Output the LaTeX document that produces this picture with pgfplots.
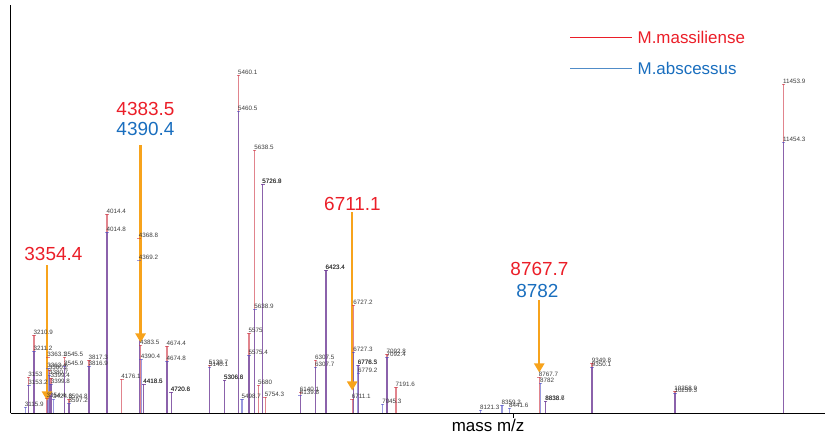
\documentclass[border=0pt]{standalone}
\usepackage{pgfplots}
\pgfplotsset{compat=1.18}
\usepackage{pgfplotstable}
\usepackage{fontspec}
\setmainfont{Liberation Sans}
\usetikzlibrary{arrows.meta}

\definecolor{massred}{RGB}{205,50,65}
\definecolor{abscblue}{RGB}{70,70,195}
\definecolor{legred}{RGB}{235,30,40}
\definecolor{legblue}{RGB}{25,110,190}
\definecolor{legblueline}{RGB}{80,140,200}
\definecolor{arroworange}{RGB}{247,163,28}
\definecolor{peaklabel}{RGB}{60,60,60}

% M. massiliense peak list: m/z, intensity, label
\pgfplotstableread{
mass    int  label
3153    36   3153
3210.9  78   3210.9
3354.4  15   3354.4
3363.1  56   3363.1
3380.2  43   3380.2
3399.4  35   3399.4
3545.5  56   3545.5
3594.8  14   3594.8
3817.3  53   3817.3
4014.4  199  4014.4
4176.1  34   4176.1
4368.8  175  4368.8
4383.5  68   4383.5
4418.5  29   4418.5
4674.4  67   4674.4
4720.6  21   4720.6
5139.7  48   5139.7
5306.6  33   5306.6
5460.1  338  5460.1
5575    80   5575
5638.5  263  5638.5
5680    28   5680
5726.9  229  5726.9
5754.3  16   5754.3
6140.1  21   6140.1
6307.5  53   6307.5
6423.4  143  6423.4
6711.1  14   6711.1
6727.2  108  6727.2
6778.3  48   6778.3
7092.8  59   7092.8
7191.6  26   7191.6
8767.7  36   8767.7
8838.7  12   8838.7
9349.8  50   9349.8
10258.9 22   10258.9
11453.9 329  11453.9
}\massiliense

% M. abscessus peak list: m/z, intensity, label
\pgfplotstableread{
mass    int  label
3115.9  6    3115.9
3153.2  28   3153.2
3211.2  62   3211.2
3363.4  45   3363.4
3380.7  38   3380.7
3399.8  29   3399.8
3424.6  14   3424.6
3545.9  47   3545.9
3597.2  10   3597.2
3816.9  47   3816.9
4014.8  181  4014.8
4369.2  153  4369.2
4390.4  54   4390.4
4418.6  29   4418.6
4674.8  52   4674.8
4720.8  21   4720.8
5140.1  46   5140.1
5306.8  33   5306.8
5460.5  302  5460.5
5498.7  14   5498.7
5575.4  58   5575.4
5638.9  104  5638.9
5726.8  229  5726.8
6139.8  18   6139.8
6307.7  46   6307.7
6423.4  143  6423.4
6727.3  61   6727.3
6776.5  48   6776.5
6779.2  40   6779.2
7045.3  9    7045.3
7092.4  56   7092.4
8121.3  3    8121.3
8359.3  8    8359.3
8441.6  5    8441.6
8782    30   8782
8838.6  12   8838.6
9350.1  46   9350.1
10259.3 20   10259.3
11454.3 271  11454.3
}\abscessus

\begin{document}
\begin{tikzpicture}
\begin{axis}[
  at={(10.5bp,22.5bp)}, anchor=south west,
  scale only axis, width=815bp, height=408bp,
  xmin=2953, xmax=11916, ymin=0, ymax=408,
  axis x line=bottom, axis y line=left,
  axis line style={-, black, line width=1.3bp},
  ytick=\empty, xtick={8485}, xticklabels={},
  scaled x ticks=false,
  tick align=outside, major tick length=4bp,
  x tick style={black, line width=0.8bp},
  xlabel={mass m/z},
  xlabel style={at={(axis description cs:0.586,0)}, anchor=center,
    yshift=-11.5bp, font=\fontsize{17}{20}\selectfont},
  clip=false,
  nodes near coords, point meta=explicit symbolic,
  nodes near coords style={anchor=south west, inner sep=0pt,
    xshift=-0.8bp, yshift=0.6bp, font=\fontsize{6.3}{6.3}\selectfont,
    text=peaklabel},
]
\addplot[ycomb, massred, draw opacity=0.6, line width=1.4bp,
  mark=-, mark size=1.8bp, mark options={solid, line width=0.9bp}]
  table[x=mass, y=int, meta=label] {\massiliense};
\addplot[ycomb, abscblue, draw opacity=0.55, line width=1.4bp,
  mark=-, mark size=1.8bp, mark options={solid, line width=0.9bp}]
  table[x=mass, y=int, meta=label] {\abscessus};

% discriminating peaks
\begin{scope}[arroworange, line width=2.2bp, -{Triangle[width=10bp,length=9bp]}]
  \draw (axis cs:3354.4,148) -- (axis cs:3354.4,13);
  \draw (axis cs:4383.5,268) -- (axis cs:4383.5,71);
  \draw (axis cs:6711.1,201) -- (axis cs:6711.1,23);
  \draw (axis cs:8767.7,113) -- (axis cs:8767.7,41);
\end{scope}
\begin{scope}[every node/.style={font=\fontsize{19}{22}\selectfont, inner sep=0pt}]
  \node[text=legred]  at (axis cs:3425,160) {3354.4};
  \node[text=legred]  at (axis cs:4437,305) {4383.5};
  \node[text=legblue] at (axis cs:4437,285) {4390.4};
  \node[text=legred]  at (axis cs:6714,210) {6711.1};
  \node[text=legred]  at (axis cs:8770,145) {8767.7};
  \node[text=legblue] at (axis cs:8748,123) {8782};
\end{scope}

% key
\draw[legred, line width=1bp] (axis cs:9111,376) -- (axis cs:9793,376);
\node[anchor=west, inner sep=0pt, text=legred, font=\fontsize{17}{20}\selectfont]
  at (axis cs:9848,376) {M.massiliense};
\draw[legblueline, line width=1bp] (axis cs:9111,345) -- (axis cs:9793,345);
\node[anchor=west, inner sep=0pt, text=legblue, font=\fontsize{17}{20}\selectfont]
  at (axis cs:9848,345) {M.abscessus};
\end{axis}
\pgfresetboundingbox
\path[use as bounding box] (0,0) rectangle (825bp,436bp);
\end{tikzpicture}
\end{document}
